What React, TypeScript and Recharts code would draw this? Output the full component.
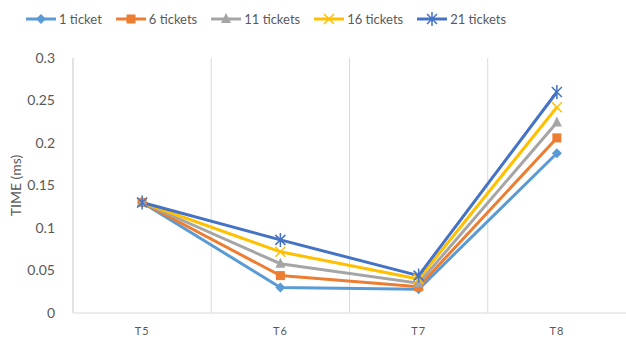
import React from 'react';
import { LineChart, Line, XAxis, YAxis, CartesianGrid, Legend } from 'recharts';

const categories = ['T5', 'T6', 'T7', 'T8'];
const series1 = [0.13, 0.03, 0.028, 0.188];
const series6 = [0.13, 0.044, 0.031, 0.206];
const series11 = [0.13, 0.058, 0.035, 0.224];
const series16 = [0.13, 0.072, 0.04, 0.242];
const series21 = [0.13, 0.086, 0.044, 0.26];
const yTicks = [0, 0.05, 0.1, 0.15, 0.2, 0.25, 0.3];

const data = categories.map((name, i) => ({
  name,
  t1: series1[i],
  t6: series6[i],
  t11: series11[i],
  t16: series16[i],
  t21: series21[i],
}));

type Shape = 'diamond' | 'square' | 'triangle' | 'x' | 'star';

const seriesDefs: { key: string; label: string; color: string; shape: Shape }[] = [
  { key: 't1', label: '1 ticket', color: '#5B9BD5', shape: 'diamond' },
  { key: 't6', label: '6 tickets', color: '#ED7D31', shape: 'square' },
  { key: 't11', label: '11 tickets', color: '#A5A5A5', shape: 'triangle' },
  { key: 't16', label: '16 tickets', color: '#FFC000', shape: 'x' },
  { key: 't21', label: '21 tickets', color: '#4472C4', shape: 'star' },
];

function marker(shape: Shape, cx: number, cy: number, color: string, key?: string) {
  const s = 5;
  switch (shape) {
    case 'diamond':
      return <path key={key} d={`M${cx},${cy - s}L${cx + s},${cy}L${cx},${cy + s}L${cx - s},${cy}Z`} fill={color} />;
    case 'square':
      return <rect key={key} x={cx - 4.5} y={cy - 4.5} width={9} height={9} fill={color} />;
    case 'triangle':
      return <path key={key} d={`M${cx},${cy - 6}L${cx + 5},${cy + 4}L${cx - 5},${cy + 4}Z`} fill={color} />;
    case 'x':
      return (
        <path key={key} d={`M${cx - 5},${cy - 5}L${cx + 5},${cy + 5}M${cx + 5},${cy - 5}L${cx - 5},${cy + 5}`} stroke={color} strokeWidth={1.5} fill="none" />
      );
    default:
      return (
        <path
          key={key}
          d={`M${cx - 5},${cy - 5}L${cx + 5},${cy + 5}M${cx + 5},${cy - 5}L${cx - 5},${cy + 5}M${cx},${cy - 7}L${cx},${cy + 7}`}
          stroke={color}
          strokeWidth={1.5}
          fill="none"
        />
      );
  }
}

const renderLegend = () => (
  <div style={{ display: 'flex', justifyContent: 'flex-start', paddingLeft: 26, gap: 14, fontFamily: 'Lato', fontSize: 13, color: '#595959', height: 17 }}>
    {seriesDefs.map((s) => (
      <div key={s.key} style={{ display: 'flex', alignItems: 'center', gap: 3 }}>
        <svg width={30} height={14}>
          <line x1={0} y1={7} x2={30} y2={7} stroke={s.color} strokeWidth={3} />
          {marker(s.shape, 15, 7, s.color)}
        </svg>
        <span>{s.label}</span>
      </div>
    ))}
  </div>
);

export default function App() {
  return (
    <div style={{ position: 'absolute', left: 0, top: 0, background: '#fff' }}>
      <LineChart width={626} height={342} data={data} margin={{ top: 41, right: 0, bottom: 0, left: 0 }}>
        <CartesianGrid
          horizontal={false}
          stroke="#D9D9D9"
          verticalCoordinatesGenerator={({ offset }: any) => {
            const bw = offset.width / categories.length;
            return categories.map((_, i) => offset.left + i * bw);
          }}
        />
        <XAxis
          dataKey="name"
          scale="band"
          height={29}
          axisLine={{ stroke: '#D9D9D9' }}
          tickLine={false}
          tick={{ fill: '#595959', fontSize: 11, fontFamily: 'Lato', letterSpacing: 1 }}
          tickMargin={8}
        />
        <YAxis
          width={73}
          domain={[0, 0.3]}
          ticks={yTicks}
          axisLine={{ stroke: '#D9D9D9' }}
          tickLine={false}
          tickMargin={12}
          tick={{ fill: '#595959', fontSize: 14, fontFamily: 'Lato' }}
          label={{ value: 'TIME (ms)', angle: -90, position: 'insideLeft', offset: 16, fill: '#595959', fontSize: 14, fontFamily: 'Lato', style: { textAnchor: 'middle' } }}
        />
        <Legend verticalAlign="top" content={renderLegend} wrapperStyle={{ top: 10, left: 0 }} />
        {seriesDefs.map((s) => (
          <Line
            key={s.key}
            dataKey={s.key}
            stroke={s.color}
            strokeWidth={3}
            isAnimationActive={false}
            dot={(p: any) => marker(s.shape, p.cx, p.cy, s.color, `${s.key}-${p.index}`)}
            activeDot={false}
          />
        ))}
      </LineChart>
    </div>
  );
}
